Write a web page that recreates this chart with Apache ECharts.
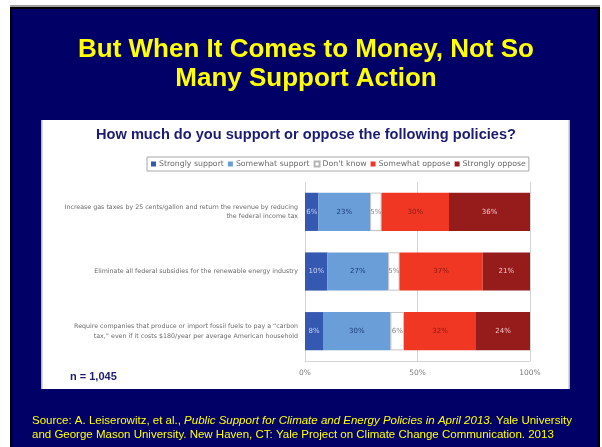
<!DOCTYPE html>
<html>
<head>
<meta charset="utf-8">
<script src="https://cdn.jsdelivr.net/npm/echarts@6/dist/echarts.min.js"></script>
<style>
  html, body { margin: 0; padding: 0; background: #ffffff; }
  #chart { width: 602px; height: 447px; }
</style>
</head>
<body>
<div id="chart"></div>
<script>
// Survey question items (top to bottom)
const policies = [
  'Increase gas taxes by 25 cents/gallon and return the revenue by reducing\nthe federal income tax',
  'Eliminate all federal subsidies for the renewable energy industry',
  'Require companies that produce or import fossil fuels to pay a \u201ccarbon\ntax,\u201d even if it costs $180/year per average American household'
];

// Response categories and shares (%)
const responses = ['Strongly support', 'Somewhat support', "Don't know", 'Somewhat oppose', 'Strongly oppose'];
const stronglySupport = [6, 10, 8];
const somewhatSupport = [23, 27, 30];
const dontKnow = [5, 5, 6];
const somewhatOppose = [30, 37, 32];
const stronglyOppose = [36, 21, 24];

const percentTicks = [0, 50, 100];

const slideTitle = ['But When It Comes to Money, Not So', 'Many Support Action'];
const chartTitle = 'How much do you support or oppose the following policies?';
const sampleNote = 'n = 1,045';

const seriesValues = [stronglySupport, somewhatSupport, dontKnow, somewhatOppose, stronglyOppose];
const fills = ['#3558b0', '#6a9ed8', '#ffffff', '#ef3724', '#961c1c'];
const labelColors = ['#c9d7f2', '#1e3a78', '#8a8a8a', '#8c1a14', '#f3c2c2'];

const chart = echarts.init(document.getElementById('chart'), null, { renderer: 'canvas' });

const series = responses.map((name, i) => ({
  name: name,
  type: 'bar',
  stack: 'total',
  barWidth: '64%',
  data: seriesValues[i],
  itemStyle: {
    color: fills[i],
    borderColor: i === 2 ? '#b5b5b5' : fills[i],
    borderWidth: i === 2 ? 0.8 : 0
  },
  label: {
    show: true,
    position: 'inside',
    formatter: '{c}%',
    fontFamily: 'DejaVu Sans',
    fontSize: 7,
    color: labelColors[i]
  },
  emphasis: { disabled: true },
  animation: false
}));

const option = {
  animation: false,
  graphic: [
    // slide frame
    { type: 'rect', z: 0, shape: { x: 10, y: 5, width: 590, height: 2 }, style: { fill: '#a0a0a0' } },
    { type: 'rect', z: 0, shape: { x: 10, y: 7, width: 590, height: 445 }, style: { fill: '#000000' } },
    { type: 'rect', z: 0, shape: { x: 12, y: 9, width: 585, height: 445 }, style: { fill: '#000066' } },
    // white chart panel
    { type: 'rect', z: 0, shape: { x: 41, y: 120, width: 529, height: 269 }, style: { fill: '#ffffff' } },
    { type: 'rect', z: 0, shape: { x: 41, y: 120, width: 1.5, height: 269 }, style: { fill: '#b8b8b8' } },
    { type: 'rect', z: 0, shape: { x: 568.5, y: 120, width: 1.5, height: 269 }, style: { fill: '#b8b8b8' } },
    // slide title
    { type: 'text', z: 5, x: 306, y: 50, style: { text: slideTitle[0], fill: '#ffff00', font: 'bold 26px "Liberation Sans", Arial, sans-serif', textAlign: 'center', textVerticalAlign: 'middle' } },
    { type: 'text', z: 5, x: 306, y: 79, style: { text: slideTitle[1], fill: '#ffff00', font: 'bold 26px "Liberation Sans", Arial, sans-serif', textAlign: 'center', textVerticalAlign: 'middle' } },
    // chart title
    { type: 'text', z: 5, x: 306, y: 135, style: { text: chartTitle, fill: '#1c1c72', font: 'bold 14.6px "Liberation Sans", Arial, sans-serif', textAlign: 'center', textVerticalAlign: 'middle' } },
    // sample size
    { type: 'text', z: 5, x: 70, y: 377, style: { text: sampleNote, fill: '#1c1c72', font: 'bold 11px "Liberation Sans", Arial, sans-serif', textAlign: 'left', textVerticalAlign: 'middle' } },
    // source note
    {
      type: 'text', z: 5, x: 32, y: 414,
      style: {
        text: 'Source: A. Leiserowitz, et al., {i|Public Support for Climate and Energy Policies in April 2013.} Yale University\nand George Mason University. New Haven, CT: Yale Project on Climate Change Communication. 2013',
        fill: '#ffff00',
        fontFamily: '"Liberation Sans", Arial, sans-serif',
        fontSize: 11.5,
        lineHeight: 14,
        textAlign: 'left',
        textVerticalAlign: 'top',
        rich: {
          i: { fontStyle: 'italic', fill: '#ffff00', fontFamily: '"Liberation Sans", Arial, sans-serif', fontSize: 11.5, lineHeight: 14 }
        }
      }
    }
  ],
  legend: {
    data: responses,
    left: 147,
    top: 157,
    icon: 'rect',
    itemWidth: 5,
    itemHeight: 5,
    itemGap: 4,
    padding: [3, 3, 3, 4],
    borderColor: '#a8a8a8',
    borderWidth: 1,
    backgroundColor: '#ffffff',
    selectedMode: false,
    textStyle: { fontFamily: 'DejaVu Sans', fontSize: 7.8, color: '#6a6a6a', padding: [0, 0, 0, -2] }
  },
  grid: { left: 305, right: 72, top: 182, bottom: 86, containLabel: false },
  xAxis: {
    type: 'value',
    min: percentTicks[0],
    max: percentTicks[percentTicks.length - 1],
    interval: percentTicks[1] - percentTicks[0],
    axisLabel: { formatter: '{value}%', fontFamily: 'DejaVu Sans', fontSize: 7.5, color: '#7a7a7a', margin: 8 },
    axisLine: { show: true, lineStyle: { color: '#d4d4d4', width: 1 } },
    axisTick: { show: false },
    splitLine: { show: true, lineStyle: { color: '#d4d4d4', width: 1 } }
  },
  yAxis: {
    type: 'category',
    inverse: true,
    data: policies,
    axisLine: { show: false },
    axisTick: { show: false },
    axisLabel: { fontFamily: 'DejaVu Sans', fontSize: 6.3, color: '#6a6a6a', lineHeight: 9.5, margin: 7, align: 'right' }
  },
  series: series
};

chart.setOption(option);
</script>
</body>
</html>
